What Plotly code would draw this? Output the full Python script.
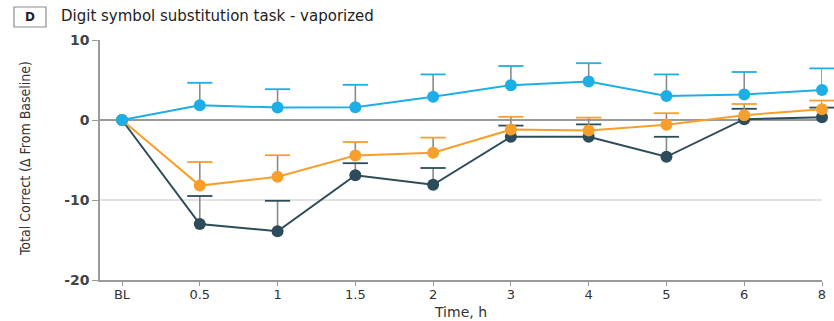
import plotly.graph_objects as go

# Time points (categorical x axis)
time_labels = ["BL", "0.5", "1", "1.5", "2", "3", "4", "5", "6", "8"]

# Mean change from baseline and upper SE for each group
dark_mean = [0, -13.0, -13.9, -6.9, -8.1, -2.1, -2.1, -4.6, 0.1, 0.35]
dark_err = [0, 3.5, 3.8, 1.5, 2.1, 1.4, 1.55, 2.5, 1.3, 1.2]

orange_mean = [0, -8.2, -7.1, -4.45, -4.1, -1.2, -1.3, -0.6, 0.6, 1.33]
orange_err = [0, 2.95, 2.7, 1.7, 1.9, 1.6, 1.6, 1.45, 1.4, 1.1]

blue_mean = [0, 1.85, 1.55, 1.6, 2.9, 4.35, 4.8, 3.0, 3.2, 3.75]
blue_err = [0, 2.8, 2.3, 2.8, 2.8, 2.4, 2.3, 2.7, 2.8, 2.7]

y_ticks = [-20, -10, 0, 10]
y_tick_text = ["-20", "-10", "0", "10"]

DARK = "#2b4c58"
ORANGE = "#f6a02b"
BLUE = "#1eaee6"
STEM = "#8a8a8a"

PLOT_W = 722
PLOT_H = 240

series = [
    ("dark", dark_mean, dark_err, DARK),
    ("orange", orange_mean, orange_err, ORANGE),
    ("blue", blue_mean, blue_err, BLUE),
]

fig = go.Figure()

for name, mean, err, color in series:
    # grey one-sided error stems
    fig.add_trace(go.Scatter(
        x=time_labels[1:], y=mean[1:], mode="markers",
        marker=dict(size=0.1, color="rgba(0,0,0,0)"),
        error_y=dict(type="data", symmetric=False, array=err[1:],
                     arrayminus=[0] * (len(err) - 1),
                     color=STEM, thickness=1.6, width=0),
        hoverinfo="skip", showlegend=False, cliponaxis=False,
    ))
    # coloured caps at the top of each stem
    tops = [m + e for m, e in zip(mean[1:], err[1:])]
    fig.add_trace(go.Scatter(
        x=time_labels[1:], y=tops, mode="markers",
        marker=dict(symbol="line-ew", size=18,
                    line=dict(color=color, width=1.8)),
        hoverinfo="skip", showlegend=False, cliponaxis=False,
    ))

for name, mean, err, color in series:
    fig.add_trace(go.Scatter(
        x=time_labels, y=mean, mode="lines+markers", name=name,
        line=dict(color=color, width=2),
        marker=dict(size=12, color=color),
        showlegend=False, cliponaxis=False,
    ))

# panel letter box and title
fig.add_shape(type="rect", xref="paper", yref="paper",
              x0=-86 / PLOT_W, x1=-54 / PLOT_W,
              y0=1 + 13 / PLOT_H, y1=1 + 33 / PLOT_H,
              line=dict(color="#8c8c8c", width=1.2), fillcolor="white")
fig.add_annotation(xref="paper", yref="paper", x=-70 / PLOT_W, y=1 + 23 / PLOT_H,
                   text="<b>D</b>", showarrow=False,
                   font=dict(family="DejaVu Sans", size=12, color="#222"),
                   xanchor="center", yanchor="middle")
fig.add_annotation(xref="paper", yref="paper", x=-41 / PLOT_W, y=1 + 24 / PLOT_H,
                   text="Digit symbol substitution task - vaporized",
                   showarrow=False,
                   font=dict(family="DejaVu Sans", size=15, color="#222"),
                   xanchor="left", yanchor="middle")

# axis titles
fig.add_annotation(xref="paper", yref="paper", x=(460 - 100) / PLOT_W,
                   y=-32 / PLOT_H, text="Time, h", showarrow=False,
                   font=dict(family="DejaVu Sans", size=14, color="#333"),
                   xanchor="center", yanchor="middle")
fig.add_annotation(xref="paper", yref="paper", x=-75 / PLOT_W,
                   y=(280 - 159) / PLOT_H,
                   text="Total Correct (\u0394 From Baseline)", showarrow=False,
                   textangle=-90,
                   font=dict(family="Liberation Sans Narrow, DejaVu Sans Condensed",
                             size=14, color="#333"),
                   xanchor="center", yanchor="middle")

fig.update_layout(
    width=834, height=321,
    margin=dict(l=100, r=12, t=40, b=41, autoexpand=False),
    paper_bgcolor="white", plot_bgcolor="white",
    xaxis=dict(
        type="category", categoryorder="array", categoryarray=time_labels,
        range=[-0.283, 9.0], showgrid=False, zeroline=False, automargin=False,
        showline=True, linecolor="#9a9a9a", linewidth=1.5,
        ticks="outside", ticklen=4, tickcolor="#9a9a9a", tickwidth=1.2,
        ticklabelstandoff=-2,
        tickfont=dict(family="DejaVu Sans", size=13, color="#333"),
    ),
    yaxis=dict(
        range=[-20, 10], tickvals=y_ticks, ticktext=y_tick_text, automargin=False,
        showgrid=True, gridcolor="#e2e2e2", gridwidth=1.5,
        zeroline=True, zerolinecolor="#9a9a9a", zerolinewidth=1.5,
        showline=True, linecolor="#9a9a9a", linewidth=1.5,
        ticks="outside", ticklen=6, tickcolor="#9a9a9a", tickwidth=1.2,
        tickfont=dict(family="DejaVu Sans", size=14, color="#444", weight="bold"),
    ),
)

fig.write_html("out.html")
